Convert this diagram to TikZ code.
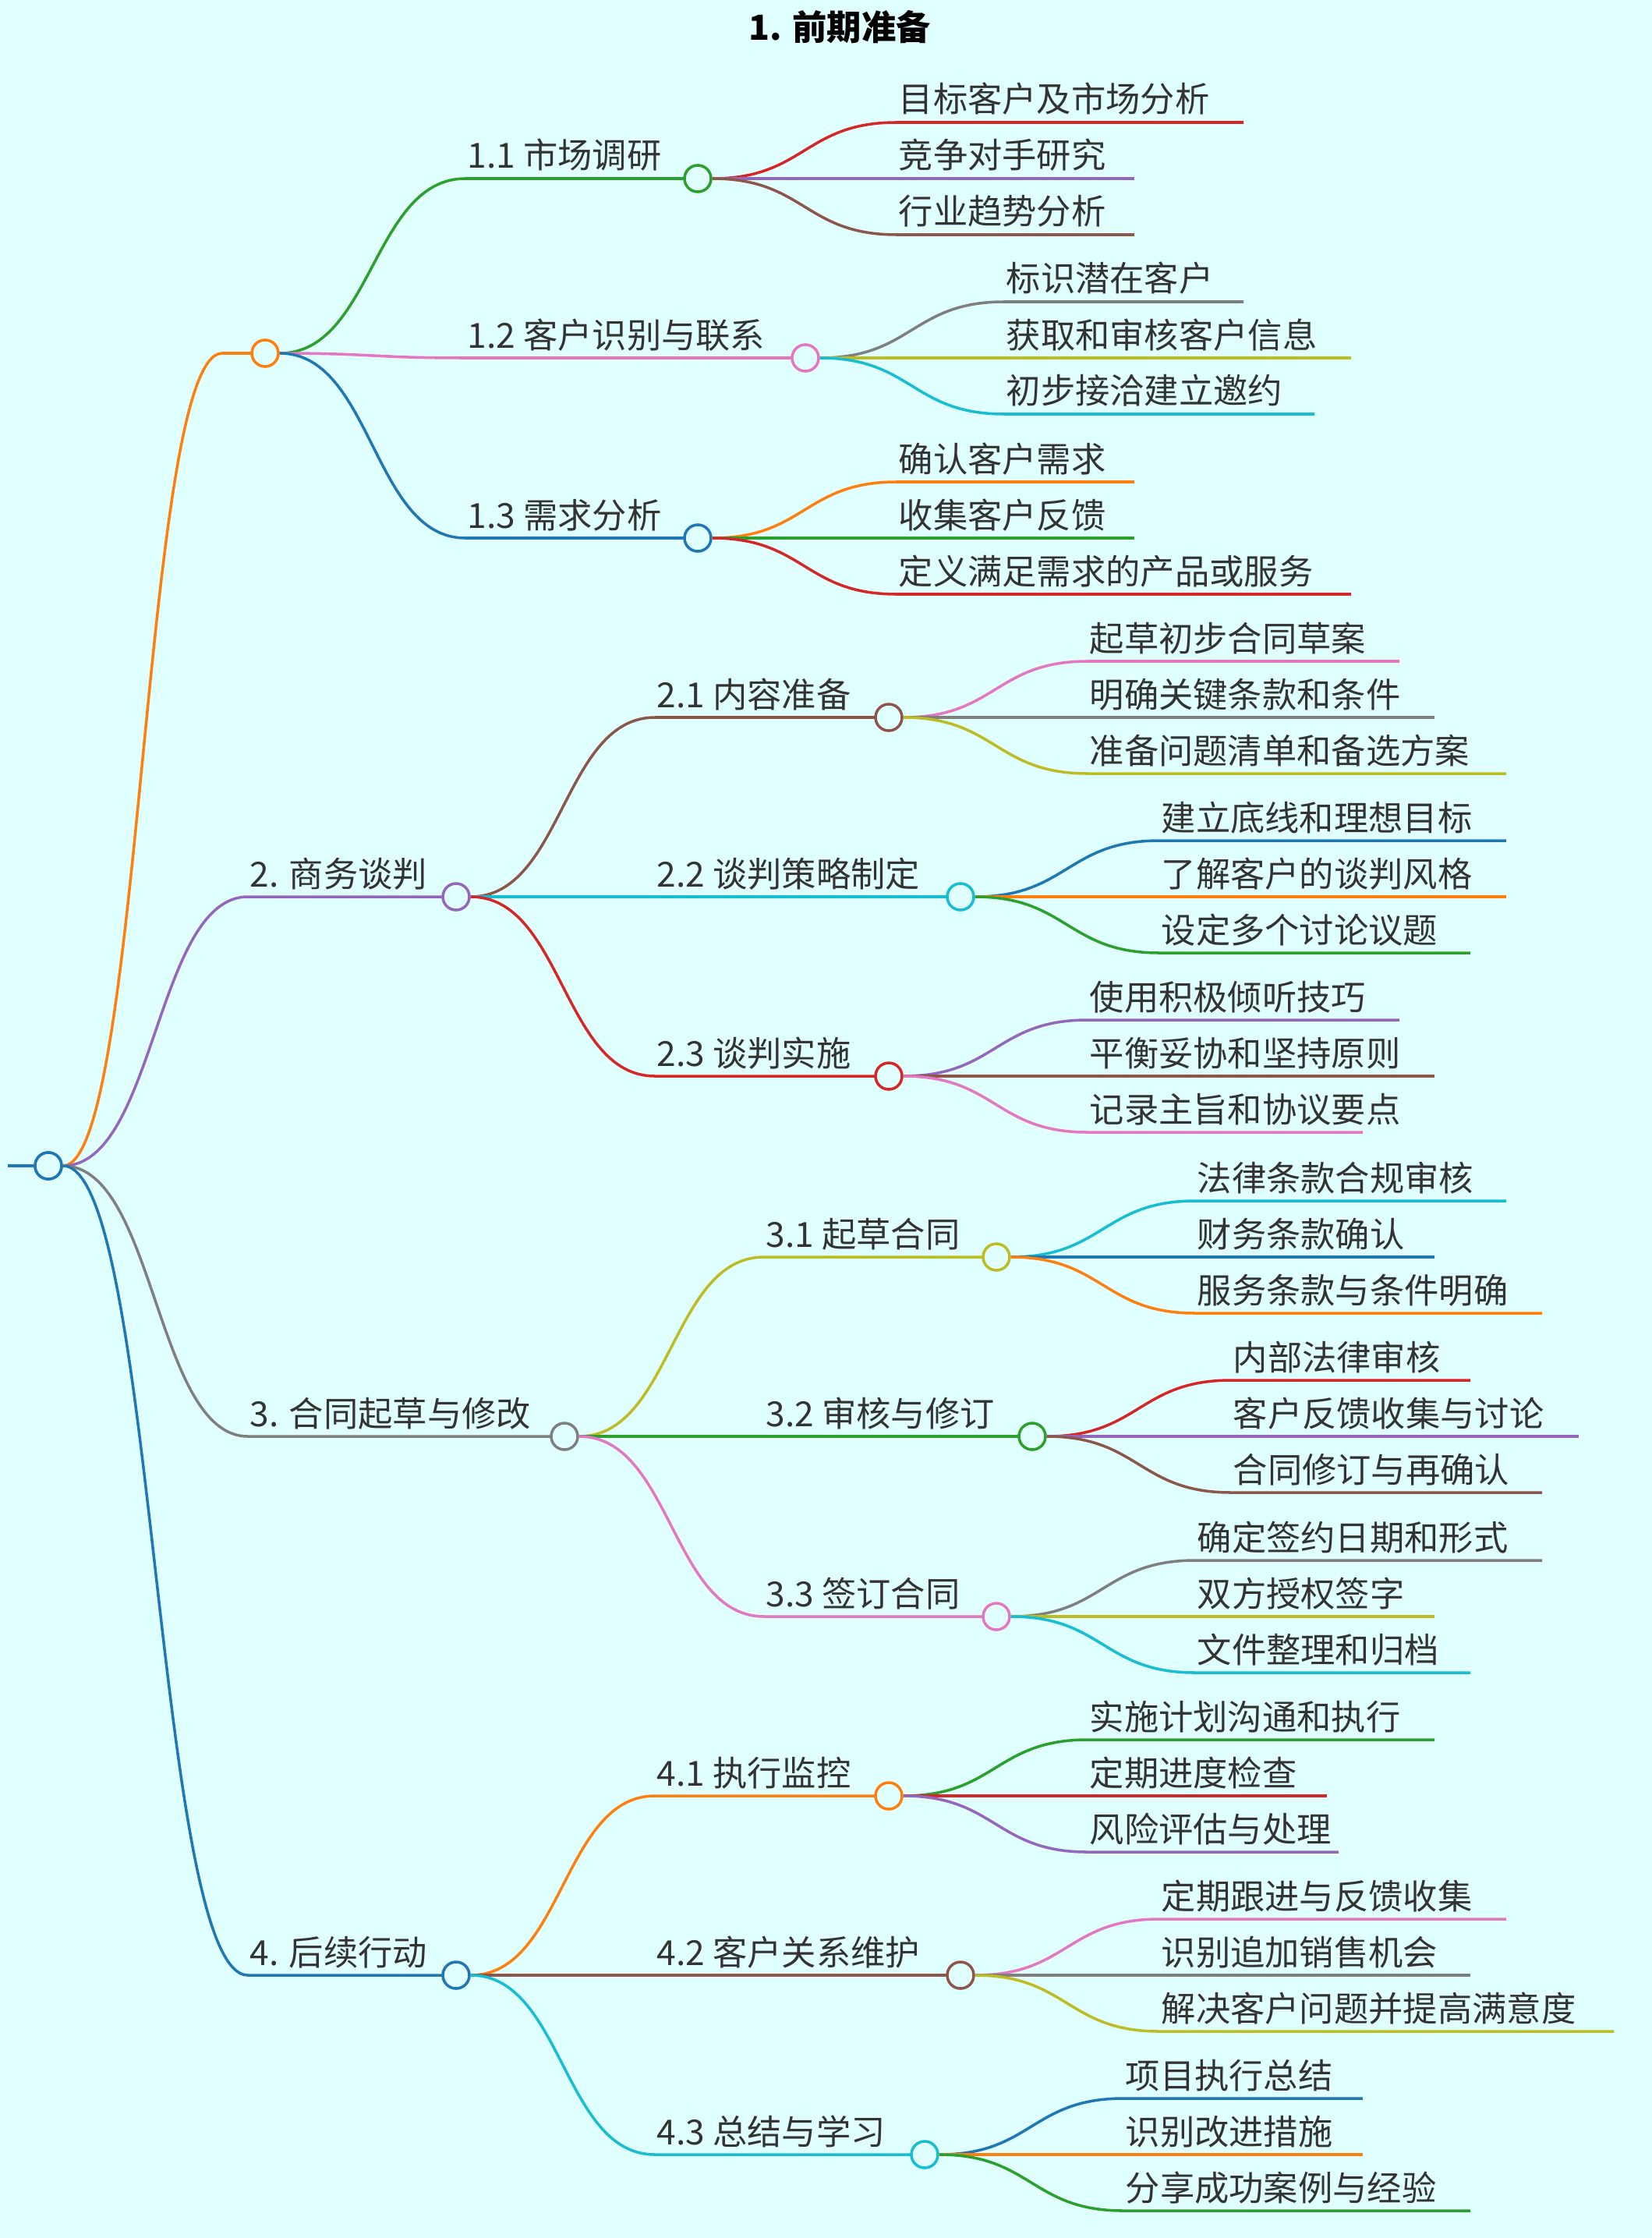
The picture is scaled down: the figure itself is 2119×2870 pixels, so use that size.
\documentclass[tikz,border=0pt]{standalone}
\usepackage{fontspec}
\setmainfont{Noto Sans CJK SC}
\usetikzlibrary{calc}
\definecolor{bg}{HTML}{E0FFFF}
\definecolor{cB}{HTML}{1F77B4}\definecolor{cO}{HTML}{FF7F0E}\definecolor{cG}{HTML}{2CA02C}
\definecolor{cR}{HTML}{D62728}\definecolor{cP}{HTML}{9467BD}\definecolor{cN}{HTML}{8C564B}
\definecolor{cK}{HTML}{E377C2}\definecolor{cY}{HTML}{7F7F7F}\definecolor{cL}{HTML}{BCBD22}
\definecolor{cC}{HTML}{17BECF}
\tikzset{mmdot/.style={circle,draw=#1,fill=bg,line width=1pt,minimum size=0.34cm,inner sep=0pt},
 mmline/.style={draw=#1,line width=1pt},
 mmtext/.style={anchor=base west,inner sep=0pt,font=\fontsize{12.6}{14}\selectfont,text=black!80}}
% #1 name #2 parent #3 textx #4 circlex #5 y #6 color #7 text
\newcommand\mmbranch[7]{%
 \coordinate (#1-s) at (#3,#5);
 \path ($(#2.east)!.5!(#1-s)$) coordinate (#1-m);
 \draw[mmline=#6] (#2.east) .. controls (#1-m |- #2.east) and (#1-m |- #1-s) .. (#1-s) -- (#4,#5);
 \node[mmtext] (#1-t) at (#3+2,#5-13) {#7};
 \node[mmdot=#6] (#1) at (#4,#5) {};}
\newcommand\mmleaf[7]{%
 \coordinate (#1-s) at (#3,#5);
 \coordinate (#1) at (#4,#5);
 \path ($(#2.east)!.5!(#1-s)$) coordinate (#1-m);
 \draw[mmline=#6] (#2.east) .. controls (#1-m |- #2.east) and (#1-m |- #1-s) .. (#1-s) -- (#1);
 \node[mmtext] (#1-t) at (#3+2,#5-13) {#7};}
\begin{document}
\begin{tikzpicture}[x=0.01cm,y=-0.01cm]
\fill[bg] (0,0) rectangle (2119,2870);
\useasboundingbox (0,0) rectangle (2119,2870);
\node[font=\fontsize{12.6}{14}\selectfont\bfseries] (title) at (1077,35) {1. 前期准备};
\coordinate (st) at (10,1495);
\node[mmdot=cB] (r) at (62,1495) {};
\draw[mmline=cB] (st) -- (r.west);
\node[mmdot=cB] (r) at (62,1495) {};
\mmbranch{a}{r}{285}{340}{453}{cO}{}
\mmbranch{b}{r}{318}{585}{1150}{cP}{2. 商务谈判}
\mmbranch{c}{r}{318}{724}{1842}{cY}{3. 合同起草与修改}
\mmbranch{d}{r}{318}{585}{2533}{cB}{4. 后续行动}
%
\mmbranch{a1}{a}{597}{895}{229}{cG}{1.1 市场调研}
\mmbranch{a2}{a}{597}{1033}{459}{cK}{1.2 客户识别与联系}
\mmbranch{a3}{a}{597}{895}{690}{cB}{1.3 需求分析}
\mmbranch{b1}{b}{840}{1140}{920}{cN}{2.1 内容准备}
\mmbranch{b2}{b}{840}{1232}{1150}{cC}{2.2 谈判策略制定}
\mmbranch{b3}{b}{840}{1140}{1380}{cR}{2.3 谈判实施}
\mmbranch{c1}{c}{980}{1278}{1612}{cL}{3.1 起草合同}
\mmbranch{c2}{c}{980}{1324}{1842}{cG}{3.2 审核与修订}
\mmbranch{c3}{c}{980}{1278}{2073}{cK}{3.3 签订合同}
\mmbranch{d1}{d}{840}{1140}{2303}{cO}{4.1 执行监控}
\mmbranch{d2}{d}{840}{1232}{2533}{cN}{4.2 客户关系维护}
\mmbranch{d3}{d}{840}{1186}{2763}{cC}{4.3 总结与学习}
%
\mmleaf{a1a}{a1}{1150}{1595}{157}{cR}{目标客户及市场分析}
\mmleaf{a1b}{a1}{1150}{1455}{229}{cP}{竞争对手研究}
\mmleaf{a1c}{a1}{1150}{1455}{301}{cN}{行业趋势分析}
\mmleaf{a2a}{a2}{1288}{1595}{387}{cY}{标识潜在客户}
\mmleaf{a2b}{a2}{1288}{1733}{459}{cL}{获取和审核客户信息}
\mmleaf{a2c}{a2}{1288}{1686}{531}{cC}{初步接洽建立邀约}
\mmleaf{a3a}{a3}{1150}{1455}{618}{cO}{确认客户需求}
\mmleaf{a3b}{a3}{1150}{1455}{690}{cG}{收集客户反馈}
\mmleaf{a3c}{a3}{1150}{1733}{762}{cR}{定义满足需求的产品或服务}
\mmleaf{b1a}{b1}{1395}{1795}{848}{cK}{起草初步合同草案}
\mmleaf{b1b}{b1}{1395}{1840}{920}{cY}{明确关键条款和条件}
\mmleaf{b1c}{b1}{1395}{1932}{992}{cL}{准备问题清单和备选方案}
\mmleaf{b2a}{b2}{1487}{1932}{1078}{cB}{建立底线和理想目标}
\mmleaf{b2b}{b2}{1487}{1932}{1150}{cO}{了解客户的谈判风格}
\mmleaf{b2c}{b2}{1487}{1886}{1222}{cG}{设定多个讨论议题}
\mmleaf{b3a}{b3}{1395}{1795}{1308}{cP}{使用积极倾听技巧}
\mmleaf{b3b}{b3}{1395}{1840}{1380}{cN}{平衡妥协和坚持原则}
\mmleaf{b3c}{b3}{1395}{1748}{1452}{cK}{记录主旨和协议要点}
\mmleaf{c1a}{c1}{1533}{1932}{1540}{cC}{法律条款合规审核}
\mmleaf{c1b}{c1}{1533}{1840}{1612}{cB}{财务条款确认}
\mmleaf{c1c}{c1}{1533}{1978}{1684}{cO}{服务条款与条件明确}
\mmleaf{c2a}{c2}{1579}{1886}{1770}{cR}{内部法律审核}
\mmleaf{c2b}{c2}{1579}{2025}{1842}{cP}{客户反馈收集与讨论}
\mmleaf{c2c}{c2}{1579}{1978}{1914}{cN}{合同修订与再确认}
\mmleaf{c3a}{c3}{1533}{1978}{2001}{cY}{确定签约日期和形式}
\mmleaf{c3b}{c3}{1533}{1840}{2073}{cL}{双方授权签字}
\mmleaf{c3c}{c3}{1533}{1886}{2145}{cC}{文件整理和归档}
\mmleaf{d1a}{d1}{1395}{1840}{2231}{cG}{实施计划沟通和执行}
\mmleaf{d1b}{d1}{1395}{1702}{2303}{cR}{定期进度检查}
\mmleaf{d1c}{d1}{1395}{1717}{2375}{cP}{风险评估与处理}
\mmleaf{d2a}{d2}{1487}{1932}{2461}{cK}{定期跟进与反馈收集}
\mmleaf{d2b}{d2}{1487}{1886}{2533}{cY}{识别追加销售机会}
\mmleaf{d2c}{d2}{1487}{2070}{2605}{cL}{解决客户问题并提高满意度}
\mmleaf{d3a}{d3}{1441}{1748}{2691}{cB}{项目执行总结}
\mmleaf{d3b}{d3}{1441}{1748}{2763}{cO}{识别改进措施}
\mmleaf{d3c}{d3}{1441}{1886}{2835}{cG}{分享成功案例与经验}
\end{tikzpicture}
\end{document}
